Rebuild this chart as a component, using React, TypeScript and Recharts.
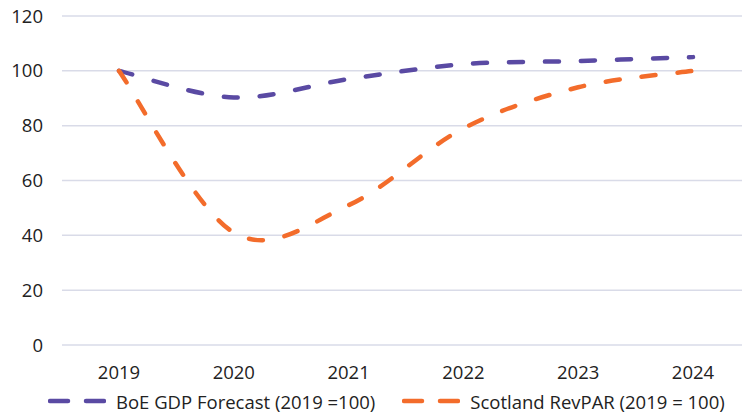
import { CartesianGrid, Legend, Line, LineChart, XAxis, YAxis } from 'recharts';

const years = ['2019', '2020', '2021', '2022', '2023', '2024'];
const boeGdp = [100, 90.3, 97, 102.4, 103.6, 105];
const scotlandRevpar = [100, 41, 51, 79, 94, 100];
const yTicks = [0, 20, 40, 60, 80, 100, 120];

const series = [
  { key: 'boe', name: 'BoE GDP Forecast (2019 =100)', color: '#5a4aa3' },
  { key: 'scot', name: 'Scotland RevPAR (2019 = 100)', color: '#f36c2b' },
];

const data = years.map((year, i) => ({ year, boe: boeGdp[i], scot: scotlandRevpar[i] }));

// Excel style smoothing (catmull-rom through every point)
const smoothCurve = (context: any) => {
  let pts: number[][] = [];
  return {
    areaStart() {},
    areaEnd() {},
    lineStart() {
      pts = [];
    },
    point(x: number, y: number) {
      pts.push([+x, +y]);
    },
    lineEnd() {
      if (!pts.length) return;
      context.moveTo(pts[0][0], pts[0][1]);
      for (let i = 0; i < pts.length - 1; i++) {
        const p0 = pts[i - 1] || pts[i];
        const p1 = pts[i];
        const p2 = pts[i + 1];
        const p3 = pts[i + 2] || p2;
        context.bezierCurveTo(
          p1[0] + (p2[0] - p0[0]) / 6,
          p1[1] + (p2[1] - p0[1]) / 6,
          p2[0] - (p3[0] - p1[0]) / 6,
          p2[1] - (p3[1] - p1[1]) / 6,
          p2[0],
          p2[1],
        );
      }
    },
  };
};

const font = '"Open Sans", "Noto Sans", sans-serif';

const LegendContent = () => (
  <div
    style={{
      height: 29,
      boxSizing: 'border-box',
      paddingTop: 3,
      paddingLeft: 48,
      display: 'flex',
      alignItems: 'center',
      fontFamily: font,
      fontSize: 18.5,
      color: '#222',
    }}
  >
    {series.map((s, i) => (
      <div key={s.key} style={{ display: 'flex', alignItems: 'center', marginRight: i === 0 ? 27 : 0 }}>
        <svg width={58} height={10} style={{ marginRight: 10 }}>
          <line x1={2} y1={5} x2={20} y2={5} stroke={s.color} strokeWidth={4.5} strokeLinecap="round" />
          <line x1={38} y1={5} x2={56} y2={5} stroke={s.color} strokeWidth={4.5} strokeLinecap="round" />
        </svg>
        <span style={{ whiteSpace: 'nowrap' }}>{s.name}</span>
      </div>
    ))}
  </div>
);

export default function App() {
  return (
    <div style={{ position: 'absolute', left: 0, top: 0, width: 742, height: 414, overflow: 'hidden', background: '#fff' }}>
      <LineChart width={750} height={414} data={data} margin={{ top: 16, right: 0, left: 0, bottom: 0 }}>
        <CartesianGrid vertical={false} stroke="#d9dbe8" strokeWidth={1.5} />
        <XAxis
          dataKey="year"
          axisLine={false}
          tickLine={false}
          tickSize={0}
          tickMargin={21}
          height={40}
          padding={{ left: 57, right: 57 }}
          tick={{ fill: '#222', fontSize: 18.5, fontFamily: font }}
        />
        <YAxis
          domain={[0, 120]}
          ticks={yTicks}
          axisLine={false}
          tickLine={false}
          tickSize={0}
          tickMargin={19}
          width={62}
          tick={{ fill: '#222', fontSize: 18.5, fontFamily: font }}
        />
        <Legend verticalAlign="bottom" content={<LegendContent />} wrapperStyle={{ left: 0, width: 750 }} />
        {series.map((s) => (
          <Line
            key={s.key}
            dataKey={s.key}
            name={s.name}
            type={smoothCurve as any}
            stroke={s.color}
            strokeWidth={4.5}
            strokeDasharray="14 22"
            strokeLinecap="round"
            dot={false}
            activeDot={false}
            isAnimationActive={false}
          />
        ))}
      </LineChart>
    </div>
  );
}
